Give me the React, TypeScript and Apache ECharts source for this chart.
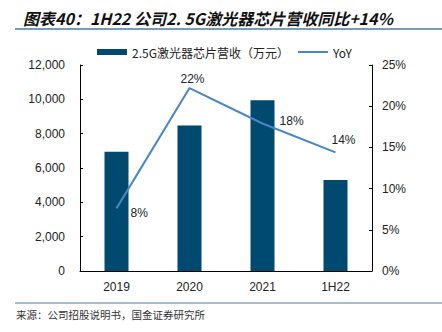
import React, { useEffect, useRef } from "react";
import * as echarts from "echarts";

const categories = ["2019", "2020", "2021", "1H22"];
const revenue = [6950, 8480, 9950, 5300];
const yoy = [7.6, 22.2, 17.9, 14.4];
const revenueName = "2.5G激光器芯片营收（万元）";
const yoyName = "YoY";
const titleText = "图表40：1H22 公司2. 5G激光器芯片营收同比+14%";
const sourceText = "来源：公司招股说明书，国金证券研究所";

const labelPos: any[] = [
  { position: "right", offset: [9, 5] },
  { position: "top", offset: [3, 2] },
  { position: "right", offset: [12, -3] },
  { position: "top", offset: [8, -1] },
];

export default function App() {
  const ref = useRef<HTMLDivElement>(null);
  useEffect(() => {
    if (!ref.current) return;
    const chart = echarts.init(ref.current, null, { renderer: "svg" });
    const font = "Liberation Sans, Arial, sans-serif";
    chart.setOption({
      animation: false,
      title: {
        text: titleText,
        left: 18,
        top: 5,
        textStyle: {
          fontFamily: "Noto Sans CJK SC",
          fontStyle: "italic",
          fontWeight: "bold",
          fontSize: 16,
          color: "#111",
        },
      },
      graphic: [
        { type: "line", shape: { x1: 15, y1: 29, x2: 442, y2: 29 }, style: { stroke: "#4d7aa3", lineWidth: 1.5 } },
        { type: "line", shape: { x1: 15, y1: 303, x2: 442, y2: 303 }, style: { stroke: "#4d7aa3", lineWidth: 1 } },
        {
          type: "text",
          left: 16,
          top: 309,
          style: { text: sourceText, fontFamily: "Noto Sans CJK SC", fontSize: 10.5, fill: "#333" },
        },
      ],
      legend: {
        top: 41,
        left: 92,
        itemGap: 9,
        itemWidth: 30,
        itemHeight: 6,
        textStyle: { fontFamily: "Noto Sans CJK SC, " + font, fontSize: 12, color: "#222" },
        data: [
          { name: revenueName, icon: "rect" },
          { name: yoyName, icon: "path://M0,0H30V2H0Z" },
        ],
      },
      grid: { left: 80, right: 70, top: 65, bottom: 61 },
      xAxis: {
        type: "category",
        data: categories,
        axisLine: { lineStyle: { color: "#000", width: 1 } },
        axisTick: { inside: true, length: 3, lineStyle: { color: "#000" } },
        axisLabel: { color: "#222", fontFamily: font, fontSize: 12, margin: 10 },
      },
      yAxis: [
        {
          type: "value",
          min: 0,
          max: 12000,
          interval: 2000,
          splitLine: { show: false },
          axisLine: { show: true, lineStyle: { color: "#000" } },
          axisTick: { show: true, inside: true, length: 3, lineStyle: { color: "#000" } },
          axisLabel: {
            color: "#222",
            fontFamily: font,
            fontSize: 12,
            margin: 15,
            formatter: (v: number) => v.toLocaleString("en-US"),
          },
        },
        {
          type: "value",
          min: 0,
          max: 25,
          interval: 5,
          splitLine: { show: false },
          axisLine: { show: true, lineStyle: { color: "#000" } },
          axisTick: { show: true, inside: true, length: 3, lineStyle: { color: "#000" } },
          axisLabel: { color: "#222", fontFamily: font, fontSize: 12, margin: 10, formatter: "{value}%" },
        },
      ],
      series: [
        {
          name: revenueName,
          type: "bar",
          data: revenue,
          barWidth: 24,
          itemStyle: { color: "#004a70" },
        },
        {
          name: yoyName,
          type: "line",
          yAxisIndex: 1,
          symbol: "circle",
          symbolSize: 0.1,
          showSymbol: true,
          lineStyle: { color: "#4a86c6", width: 2 },
          itemStyle: { color: "#4a86c6" },
          data: yoy.map((v, i) => ({
            value: v,
            label: {
              show: true,
              position: labelPos[i].position,
              offset: labelPos[i].offset,
              formatter: (p: any) => Math.round(p.value) + "%",
              color: "#222",
              fontFamily: font,
              fontSize: 12,
            },
          })),
        },
      ],
    });
    return () => chart.dispose();
  }, []);
  return <div ref={ref} style={{ width: 442, height: 332, position: "absolute", left: 0, top: 0, background: "#fff" }} />;
}
